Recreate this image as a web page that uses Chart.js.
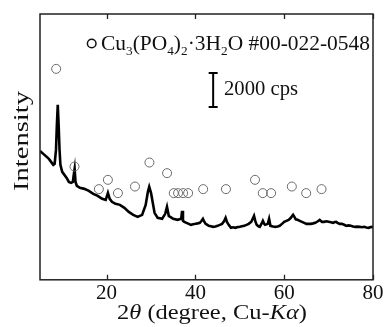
<!DOCTYPE html>
<html>
<head>
<meta charset="utf-8">
<script src="https://cdn.jsdelivr.net/npm/chart.js@4.4.1/dist/chart.umd.min.js"></script>
<style>
html,body{margin:0;padding:0;background:#fff;}
#wrap{width:387px;height:327px;position:relative;}
</style>
</head>
<body>
<div id="wrap"><canvas id="c" width="387" height="327"></canvas></div>
<script>
// 2theta (degree) of the measured pattern
const twoTheta = [5,6,7,7.5,8,8.3,8.6,8.8,9.0,9.2,9.4,9.6,10,11,11.5,12,12.4,12.6,12.8,13.0,13.3,14,15,16,17,18,19,19.8,20.3,20.7,21.2,22,23,24,25,26,27,28,28.8,29.3,29.6,30,30.4,30.8,31.5,32.5,33.2,33.6,34,35,36,36.8,37.0,
  37.2,37.5,38,38.5,39,39.5,40,40.5,41,41.4,
  41.7,42,42.3,42.7,43,43.5,44,44.5,45,45.5,
  46,46.4,46.8,47.1,47.5,48,48.5,49,49.5,50,
  50.5,51,51.5,52,52.6,53.2,53.5,53.8,54.2,54.5,
  54.9,55.2,55.5,55.7,56.0,56.3,56.6,56.9,57.5,58,
  58.5,59,59.5,60,60.5,61,61.5,62,62.3,62.6,
  63,63.5,64,64.5,65,65.5,66,66.5,67,67.5,
  68,68.5,69,69.5,70,70.5,71,71.4,71.7,72,
  72.5,73,73.5,74,74.5,75,75.5,76,76.5,77,
  77.5,78,78.5,79,79.5,80];
// intensity (cps)
const intensity = [7585,7350,7115,6938,6762,6821,7644,9114,10290,9114,7644,6762,6350,5998,5762,5704,5762,6174,6527,5762,5527,5410,5351,5233,5057,4939,4763,4704,5116,4763,4586,4469,4410,4234,3998,3822,3704,3822,4410,5174,5468,5116,4528,3940,3646,3587,3881,4292,3763,3587,3528,3587,4057,
  3469,3410,3352,3293,3234,3270,3293,3320,3352,3470,
  3587,3420,3293,3230,3175,3150,3116,3140,3175,3230,
  3293,3420,3646,3400,3234,3058,3090,3058,3100,3116,
  3150,3175,3230,3293,3420,3763,3450,3234,3150,3116,
  3300,3469,3300,3234,3260,3293,3587,3175,3140,3116,
  3140,3175,3290,3410,3470,3528,3646,3822,3700,3560,
  3528,3470,3410,3350,3293,3293,3293,3320,3352,3430,
  3528,3410,3410,3440,3410,3380,3352,3400,3410,3350,
  3293,3293,3240,3175,3200,3175,3140,3116,3130,3116,
  3090,3116,3080,3058,3100,3116];
// reference peak marks (Cu3(PO4)2·3H2O #00-022-0548)
const refPeakX = [8.64,12.77,18.26,20.29,22.55,26.39,29.64,33.62,35.13,36.10,37.23,38.36,41.75,46.88,53.43,55.17,57.05,61.72,64.95,68.41];
const refMarkY = [12412,6662,5335,5882,5100,5488,6900,6275,5100,5100,5100,5100,5335,5335,5882,5100,5100,5488,5100,5335];
// scale bar (2000 cps)
const scaleBarX = [44,44];
const scaleBarY = [10170,12170];
const xTicks = [20,40,60,80];
const yRange = [0,15640];
const xRange = [5,80];

const SERIF = '"Liberation Serif","Times New Roman",serif';
const INK = '#111';

function runsWidth(ctx, runs){
  let w=0;
  for(const r of runs){ctx.font=r.font; w+=ctx.measureText(r.t).width;}
  return w;
}
function drawRuns(ctx, runs, x, y, sx){
  ctx.save();
  ctx.translate(x,y);
  ctx.scale(sx||1,1);
  let cx=0;
  for(const r of runs){
    ctx.font=r.font;
    ctx.fillText(r.t, cx, r.dy||0);
    cx+=ctx.measureText(r.t).width;
  }
  ctx.restore();
}

const decor = {
  id:'decor',
  afterDraw(chart){
    const ctx=chart.ctx, a=chart.chartArea, xs=chart.scales.x;
    ctx.save();
    ctx.strokeStyle='#222'; ctx.lineWidth=1.5;
    ctx.strokeRect(a.left, a.top, a.right-a.left, a.bottom-a.top);
    ctx.lineWidth=1.3;
    for(const v of xTicks){
      const px=Math.round(xs.getPixelForValue(v))+0.5;
      ctx.beginPath();
      ctx.moveTo(px,a.bottom); ctx.lineTo(px,a.bottom-5);
      ctx.moveTo(px,a.top); ctx.lineTo(px,a.top+5);
      ctx.stroke();
    }
    ctx.fillStyle=INK; ctx.textBaseline='alphabetic'; ctx.textAlign='left';
    ctx.strokeStyle='#111'; ctx.lineWidth=1.5;
    ctx.beginPath(); ctx.arc(91.7,43.5,4.3,0,Math.PI*2); ctx.stroke();
    const F='21px '+SERIF, S='13px '+SERIF;
    const leg=[{t:'Cu',font:F},{t:'3',font:S,dy:5},{t:'(PO',font:F},{t:'4',font:S,dy:5},{t:')',font:F},{t:'2',font:S,dy:5},{t:'·3H',font:F},{t:'2',font:S,dy:5},{t:'O #00-022-0548',font:F}];
    const lw=runsWidth(ctx,leg);
    drawRuns(ctx,leg,101,50,269/lw);
    const sb=[{t:'2000 cps',font:'20px '+SERIF}];
    drawRuns(ctx,sb,224,95,74/runsWidth(ctx,sb));
    const N='21px '+SERIF, I='italic 21px '+SERIF;
    const xt=[{t:'2',font:N},{t:'θ',font:I},{t:' (degree, Cu-',font:N},{t:'K',font:I},{t:'α',font:I},{t:')',font:N}];
    drawRuns(ctx,xt,117,319,190/runsWidth(ctx,xt));
    ctx.save();
    ctx.translate(28,141); ctx.rotate(-Math.PI/2);
    ctx.font='22px '+SERIF;
    const yw=ctx.measureText('Intensity').width;
    ctx.scale(100/yw,1);
    ctx.textAlign='center';
    ctx.fillText('Intensity',0,0);
    ctx.restore();
    ctx.restore();
  }
};

new Chart(document.getElementById('c'),{
  type:'line',
  data:{
    datasets:[
      {data:twoTheta.map((x,i)=>({x,y:intensity[i]})),borderColor:'#000',borderWidth:2.6,pointRadius:0,tension:0,fill:false,order:2},
      {data:refPeakX.map((x,i)=>({x,y:refMarkY[i]})),showLine:false,pointStyle:'circle',pointRadius:4.5,pointBorderWidth:1,pointBorderColor:'#6a6a6a',pointBackgroundColor:'rgba(255,255,255,0)',order:1},
      {data:scaleBarX.map((x,i)=>({x,y:scaleBarY[i]})),borderColor:'#000',borderWidth:2,pointStyle:'line',pointRadius:4.5,pointBorderWidth:2,pointBorderColor:'#000',order:0}
    ]
  },
  options:{
    responsive:false,animation:false,
    layout:{padding:{left:40,right:14,top:14,bottom:20}},
    plugins:{legend:{display:false},tooltip:{enabled:false}},
    scales:{
      x:{type:'linear',min:xRange[0],max:xRange[1],
        afterBuildTicks:(s)=>{s.ticks=xTicks.map(v=>({value:v}));},
        grid:{display:false,drawTicks:false},border:{display:false},
        ticks:{color:INK,font:{family:SERIF,size:21},padding:1,maxRotation:0,autoSkip:false}},
      y:{display:false,min:yRange[0],max:yRange[1]}
    }
  },
  plugins:[decor]
});
</script>
</body>
</html>
